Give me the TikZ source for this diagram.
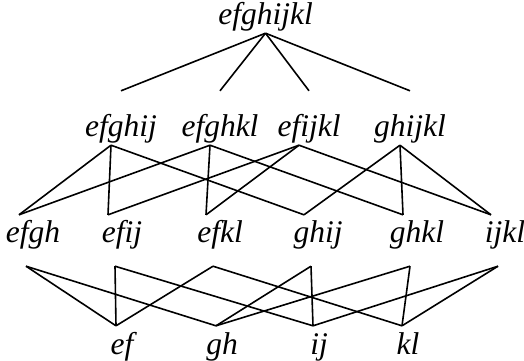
\documentclass[tikz,border=0pt]{standalone}
\usepackage{fontspec}
\setmainfont{Liberation Serif}
\usepackage{tikz}
\usetikzlibrary{positioning}
\tikzset{
  lab/.style={font=\fontsize{31.5}{36}\selectfont\itshape, anchor=base,
              inner sep=0pt},
  lvone/.style={lab, text depth=9pt},
  lvtwo/.style={lab, text height=45pt, text depth=9pt},
  lvthree/.style={lab, text height=27pt, text depth=24pt},
  lvfour/.style={lab, text height=28pt},
  edge/.style={black, line width=1.6pt},
}

\begin{document}
\begin{tikzpicture}[x=1pt, y=-1pt]

  \useasboundingbox (0,0) rectangle (524,360);

  % top
  \node[lvone] (efghijkl) at (265.5,24) {efghijkl};

  % second row
  \node[lvtwo] (efghij) at (121,136) {efghij};
  \node[lvtwo] (efghkl) at (220,136) {efghkl};
  \node[lvtwo] (efijkl) at (309,136) {efijkl};
  \node[lvtwo] (ghijkl) at (410,136) {ghijkl};

  % third row
  \node[lvthree] (efgh) at (33,242)  {efgh};
  \node[lvthree] (efij) at (122,242) {efij};
  \node[lvthree] (efkl) at (220,242) {efkl};
  \node[lvthree] (ghij) at (318,242) {ghij};
  \node[lvthree] (ghkl) at (417,242) {ghkl};
  \node[lvthree] (ijkl) at (505,242) {ijkl};

  % bottom row
  \node[lvfour] (ef) at (122,354) {ef};
  \node[lvfour] (gh) at (222,354) {gh};
  \node[lvfour] (ij) at (319,354) {ij};
  \node[lvfour] (kl) at (408,354) {kl};

  \foreach \b in {efghij, efghkl, efijkl, ghijkl}
    \draw[edge] (efghijkl.south) -- (\b.north);

  \foreach \a/\b in {efghij/efgh, efghij/efij, efghij/ghij,
                     efghkl/efgh, efghkl/efkl, efghkl/ghkl,
                     efijkl/efij, efijkl/efkl, efijkl/ijkl,
                     ghijkl/ghij, ghijkl/ghkl, ghijkl/ijkl}
    \draw[edge] ([xshift=-10pt]\a.south) -- ([xshift=-14pt]\b.north);

  \foreach \a/\b in {efgh/ef, efgh/gh, efij/ef, efij/ij,
                     efkl/ef, efkl/kl, ghij/gh, ghij/ij,
                     ghkl/gh, ghkl/kl, ijkl/ij, ijkl/kl}
    \draw[edge] ([xshift=-7pt]\a.south) -- ([xshift=-6pt]\b.north);

\end{tikzpicture}
\end{document}
